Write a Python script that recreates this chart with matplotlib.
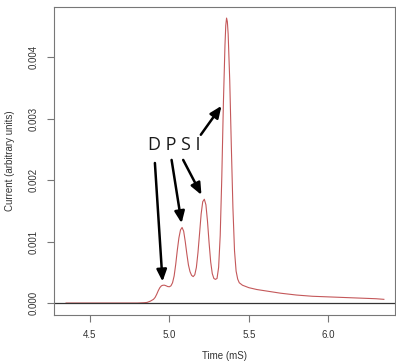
import matplotlib
matplotlib.use('Agg')
import matplotlib.pyplot as plt

# Trace (time in mS, current in arbitrary units)
time = [4.35, 4.50, 4.65, 4.80, 4.84, 4.86, 4.88, 4.90, 4.91, 4.92, 4.93,
        4.94, 4.95, 4.96, 4.97, 4.98, 4.99, 5.00, 5.01, 5.02, 5.03, 5.04,
        5.05, 5.06, 5.07, 5.08, 5.09, 5.10, 5.11, 5.12, 5.13, 5.14, 5.15,
        5.16, 5.17, 5.18, 5.19, 5.20, 5.21, 5.22, 5.23, 5.24, 5.25, 5.26,
        5.27, 5.28, 5.29, 5.30, 5.31, 5.32, 5.33, 5.34, 5.35, 5.355, 5.36,
        5.365, 5.37, 5.38, 5.39, 5.40, 5.41, 5.42, 5.43, 5.44, 5.46, 5.50,
        5.55, 5.60, 5.70, 5.80, 5.90, 6.00, 6.10, 6.20, 6.30, 6.35]
current = [0.0, 0.0, 0.0, 0.0, 0.000005, 0.00001, 0.00003, 0.00006, 0.00009,
           0.00014, 0.00020, 0.00025, 0.00028, 0.00029, 0.00029, 0.00028,
           0.000268, 0.000265, 0.00028, 0.00033, 0.00044, 0.00063, 0.00086,
           0.00106, 0.00119, 0.00123, 0.00117, 0.00100, 0.00080, 0.00062,
           0.00051, 0.00045, 0.00043, 0.00046, 0.00058, 0.00082, 0.00113,
           0.00145, 0.00165, 0.00169, 0.00160, 0.00133, 0.00098, 0.00067,
           0.00048, 0.00040, 0.000385, 0.00040, 0.00058, 0.00110, 0.00205,
           0.00325, 0.00420, 0.00452, 0.00464, 0.00458, 0.00438, 0.00362,
           0.00255, 0.00155, 0.00085, 0.00052, 0.00039, 0.00033, 0.00029,
           0.00025, 0.00022, 0.00020, 0.00016, 0.00013, 0.00011, 0.00010,
           0.00009, 0.00008, 0.00007, 0.00006]

labels = 'D P S I'
label_pos = (5.028, 0.00257)
# arrow tails and heads (time, current)
arrow_tails = [(4.909, 0.00228), (5.014, 0.00233), (5.087, 0.00233), (5.198, 0.00274)]
arrow_heads = [(4.957, 0.00035), (5.077, 0.00130), (5.202, 0.00176), (5.328, 0.00321)]

plt.rcParams['font.family'] = ['Liberation Sans', 'DejaVu Sans']

fig = plt.figure(figsize=(3.96, 3.62), dpi=100)
ax = fig.add_axes([54 / 396, 47 / 362, 341 / 396, 308 / 362])

ax.plot(time, current, color='#c4585a', lw=0.8)
ax.axhline(0, color='#333333', lw=0.9)

ax.set_xlim(4.274, 6.42)
ax.set_ylim(-0.000195, 0.00482)
ax.set_xticks([4.5, 5.0, 5.5, 6.0])
ax.set_xticklabels(['4.5', '5.0', '5.5', '6.0'])
ax.set_yticks([0.0, 0.001, 0.002, 0.003, 0.004])
ax.set_yticklabels(['0.000', '0.001', '0.002', '0.003', '0.004'], rotation=90, va='center')

for s in ax.spines.values():
    s.set_color('#777777')
ax.tick_params(colors='#777777', labelcolor='#333333', labelsize=7, length=5, width=0.8, pad=6)

ax.set_xlabel('Time (mS)', fontsize=7, color='#333333', labelpad=8)
ax.set_ylabel('Current (arbitrary units)', fontsize=7, color='#333333', labelpad=10)

ax.text(label_pos[0], label_pos[1], labels, fontsize=13, family=['Open Sans', 'DejaVu Sans'],
        ha='center', va='center', color='#1a1a1a')
for tail, head in zip(arrow_tails, arrow_heads):
    ax.annotate('', xy=head, xytext=tail,
                arrowprops=dict(arrowstyle='-|>,head_length=0.7,head_width=0.3', color='black',
                                lw=1.8, mutation_scale=10, shrinkA=0, shrinkB=0))

fig.savefig('out.png', dpi=100)
